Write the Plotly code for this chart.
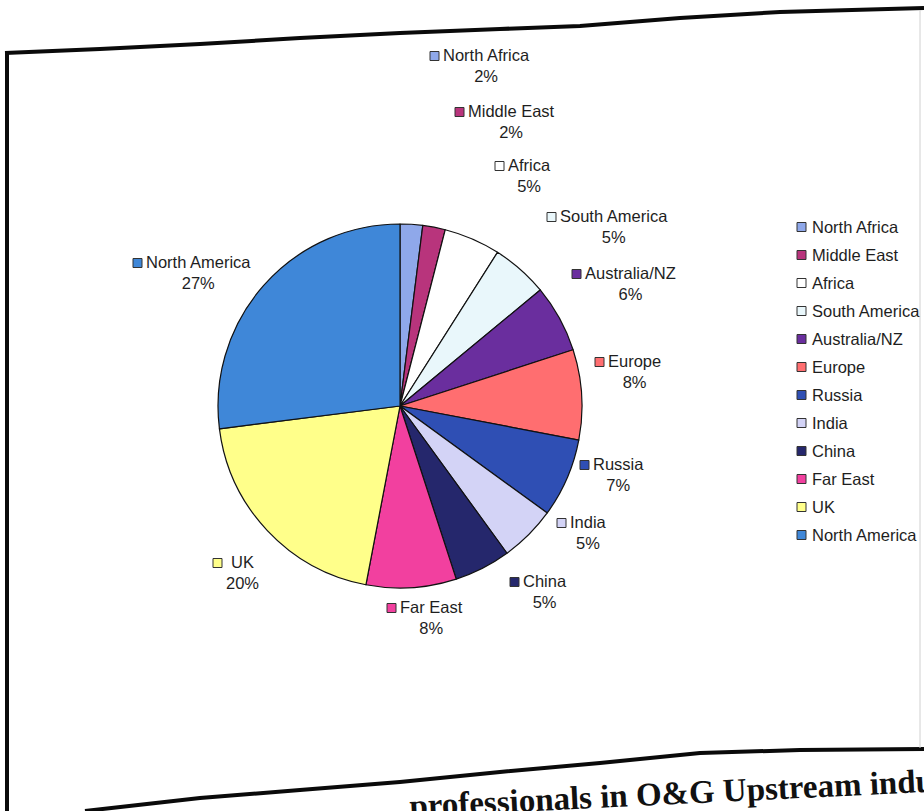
import plotly.graph_objects as go

# Regional split of O&G upstream professionals (percent)
regions = ["North Africa", "Middle East", "Africa", "South America", "Australia/NZ",
           "Europe", "Russia", "India", "China", "Far East", "UK", "North America"]
shares = [2, 2, 5, 5, 6, 8, 7, 5, 5, 8, 20, 27]
colors = ["#8fa8ea", "#b8347c", "#ffffff", "#e9f7fb", "#6a2e9e", "#ff6e70",
          "#2f4fb4", "#d3d3f6", "#25276c", "#f2409f", "#ffff8a", "#3f87d8"]

W, H = 924, 811
CX, CY, R = 400, 406, 182  # pie centre / radius in page pixels

# Placement of the callout labels (swatch left x, name line y) in page pixels
label_pos = [(430, 56), (455, 112), (495, 166), (547, 217), (572, 274), (595, 362),
             (580, 465), (557, 523), (510, 582), (387, 608), (213, 563), (133, 263)]

FONT = "Liberation Sans, Arial, sans-serif"
TXT = "#1e1e1e"
FS = 16.5

fig = go.Figure()

fig.add_trace(go.Pie(
    labels=regions, values=shares, sort=False, direction="clockwise", rotation=0,
    marker=dict(colors=colors, line=dict(color="#111111", width=1.2)),
    textinfo="none", hoverinfo="label+percent", showlegend=False,
    domain=dict(x=[(CX - R) / W, (CX + R) / W],
                y=[(H - CY - R) / H, (H - CY + R) / H]),
))

# pixel-space overlay axes used for the frame, callouts and legend
fig.add_trace(go.Scatter(x=[0], y=[0], mode="markers", marker=dict(opacity=0),
                         hoverinfo="skip", showlegend=False))

shapes = []
annotations = []

def swatch(x, y, color, s=9):
    shapes.append(dict(type="rect", xref="x", yref="y", x0=x, x1=x + s,
                       y0=y - s / 2, y1=y + s / 2, fillcolor=color,
                       line=dict(color="#333333", width=1)))

# callout labels: swatch + name with the percentage centred underneath
for name, val, col, (sx, sy) in zip(regions, shares, colors, label_pos):
    swatch(sx, sy, col)
    annotations.append(dict(
        xref="x", yref="y", x=sx + 11, y=sy - 12, xanchor="left", yanchor="top",
        text=f"{name}<br>{val}%", align="center", showarrow=False,
        font=dict(family=FONT, size=FS, color=TXT)))

# legend column on the right
LX, LY0, LDY = 797, 227, 28
for i, (name, col) in enumerate(zip(regions, colors)):
    y = LY0 + i * LDY
    swatch(LX, y, col)
    annotations.append(dict(
        xref="x", yref="y", x=LX + 13, y=y, xanchor="left", yanchor="middle",
        text=name, showarrow=False, font=dict(family=FONT, size=FS, color=TXT)))

# page frame
def polyline(pts):
    return "M " + " L ".join(f"{x},{y}" for x, y in pts)

top_edge = [(5, 53), (100, 49), (200, 44), (300, 38), (400, 33), (500, 29),
            (580, 26), (680, 18), (780, 12), (924, 8)]
bottom_edge = [(85, 811), (200, 798), (300, 790), (400, 782), (500, 772),
               (600, 763), (700, 753), (800, 750), (924, 749)]
for edge in (top_edge, bottom_edge):
    shapes.append(dict(type="path", xref="x", yref="y", path=polyline(edge),
                       line=dict(color="#0a0a0a", width=4)))
shapes.append(dict(type="line", xref="x", yref="y", x0=7, x1=7, y0=53, y1=811,
                   line=dict(color="#0a0a0a", width=4)))
shapes.append(dict(type="line", xref="x", yref="y", x0=920, x1=920, y0=10, y1=748,
                   line=dict(color="#d0d0d0", width=1)))

# figure caption below the frame
annotations.append(dict(
    xref="x", yref="y", x=699, y=792, xanchor="center", yanchor="middle",
    text="<b>professionals in O&amp;G Upstream industry</b>", textangle=-2.8,
    showarrow=False, font=dict(family="Liberation Serif, Times New Roman, serif",
                               size=33, color="#111111")))

fig.update_layout(
    width=W, height=H, margin=dict(l=0, r=0, t=0, b=0),
    paper_bgcolor="white", plot_bgcolor="rgba(0,0,0,0)",
    xaxis=dict(range=[0, W], visible=False, fixedrange=True),
    yaxis=dict(range=[H, 0], visible=False, fixedrange=True),
    shapes=shapes, annotations=annotations, showlegend=False,
)

fig.write_html("out.html")
